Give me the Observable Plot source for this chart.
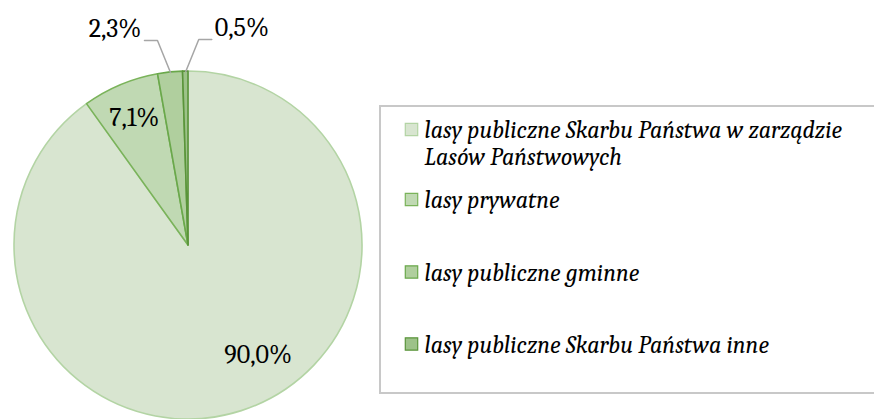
<!DOCTYPE html>
<html>
<head>
<meta charset="utf-8">
<script src="https://cdn.jsdelivr.net/npm/d3@7"></script>
<script src="https://cdn.jsdelivr.net/npm/@observablehq/plot@0.6"></script>
<style>
  html, body { margin: 0; padding: 0; background: #fff; }
  #chart svg { display: block; }
</style>
</head>
<body>
<div id="chart"></div>
<script>
// ---- data ----
const categories = [
  "lasy publiczne Skarbu Państwa w zarządzie Lasów Państwowych",
  "lasy prywatne",
  "lasy publiczne gminne",
  "lasy publiczne Skarbu Państwa inne"
];
const legendLabels = [
  "lasy publiczne Skarbu Państwa w zarządzie\nLasów Państwowych",
  "lasy prywatne",
  "lasy publiczne gminne",
  "lasy publiczne Skarbu Państwa inne"
];
const values = [90.0, 7.1, 2.3, 0.5];
const valueLabels = ["90,0%", "7,1%", "2,3%", "0,5%"];

// ---- styles / layout ----
const fills   = ["#d8e5d0", "#c0d9b3", "#b0cf9e", "#9dc289"];
const strokes = ["#b3d4a4", "#7ab35a", "#6aa84b", "#5a943a"];
const W = 874, H = 419;
const cx = 188, cy = 245, R = 174;
const FONT = "Cambria, 'DejaVu Serif', serif";
const LABEL_SIZE = 26, LEGEND_SIZE = 24, LEGEND_LINE = 27;

const arcs = d3.pie().sort(null).value(d => d)(values);
const mid = a => (a.startAngle + a.endAngle) / 2;

const labelLayout = [
  {type: "in", r: 0.745, shift: -14.7},
  {type: "in", r: 0.80, shift: 0},
  {type: "out", dir: -1},
  {type: "out", dir: 1}
];
const polar = (ang, r) => [cx + Math.sin(ang) * r, cy - Math.cos(ang) * r];

const labelData = [];
const leaderData = [];
arcs.forEach((a, i) => {
  const L = labelLayout[i];
  if (L.type === "in") {
    const [x, y] = polar(mid(a) + L.shift * Math.PI / 180, R * L.r);
    labelData.push({x, y, text: valueLabels[i], anchor: "middle"});
  } else {
    const [x0, y0] = polar(mid(a), R);
    const x1 = x0 + 13 * L.dir, y1 = y0 - 32;
    const x2 = x1 + 13 * L.dir;
    leaderData.push({i, pts: [[x0, y0], [x1, y1], [x2, y1]]});
    labelData.push({x: x2 + 3 * L.dir, y: y1 - 12, text: valueLabels[i], anchor: L.dir < 0 ? "end" : "start"});
  }
});
const leaderPts = leaderData.flatMap(d => d.pts.map(p => ({x: p[0], y: p[1], i: d.i})));

// legend layout
const legX = 380, legY1 = 106, legY2 = 393;
const legendRowY = [129, 199, 271.5, 343.5];
const legendData = categories.map((c, i) => {
  const lines = legendLabels[i].split("\n").length;
  return {c, i, label: legendLabels[i], y: legendRowY[i], ty: legendRowY[i] + (lines - 1) * LEGEND_LINE / 2};
});

// pie render mark
const pieMark = (index, scales) => {
  const g = d3.create("svg:g")
    .attr("transform", `translate(${scales.x(cx)},${scales.y(cy)})`);
  const arc = d3.arc().innerRadius(0).outerRadius(R);
  g.selectAll("path").data(arcs).join("path")
    .attr("d", arc)
    .attr("fill", (d, i) => fills[i])
    .attr("stroke", (d, i) => strokes[i])
    .attr("stroke-width", 1.6)
    .attr("stroke-linejoin", "round");
  return g.node();
};

const labelText = anchor => Plot.text(labelData.filter(d => d.anchor === anchor), {
  x: "x", y: "y", text: "text", textAnchor: anchor,
  fontSize: LABEL_SIZE, fontFamily: FONT, fill: "#000"});

const chart = Plot.plot({
  width: W, height: H, margin: 0,
  x: {domain: [0, W], range: [0, W], axis: null},
  y: {domain: [0, H], range: [0, H], axis: null},
  marks: [
    pieMark,
    Plot.line(leaderPts, {x: "x", y: "y", z: "i", stroke: "#a6a6a6", strokeWidth: 1.5}),
    labelText("middle"),
    labelText("start"),
    labelText("end"),
    Plot.rect([{x1: legX, x2: W + 10, y1: legY1, y2: legY2}],
      {x1: "x1", x2: "x2", y1: "y1", y2: "y2", fill: "none", stroke: "#c8c8c8", strokeWidth: 2}),
    Plot.dot(legendData, {x: legX + 31, y: "y", symbol: "square", r: 7,
      fill: d => fills[d.i], stroke: d => strokes[d.i], strokeWidth: 1.2}),
    Plot.text(legendData, {x: legX + 44, y: "ty", text: "label", textAnchor: "start",
      lineAnchor: "middle", lineHeight: LEGEND_LINE / LEGEND_SIZE,
      fontSize: LEGEND_SIZE, fontStyle: "italic", fontFamily: FONT, fill: "#000"})
  ]
});
document.getElementById("chart").appendChild(chart);
</script>
</body>
</html>
